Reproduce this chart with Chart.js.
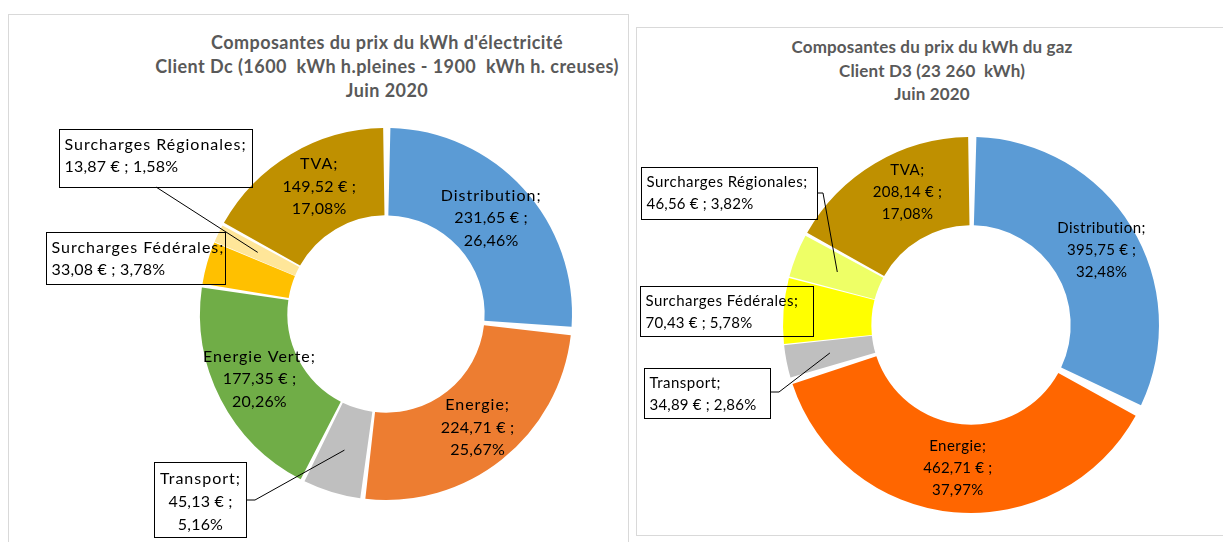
<!DOCTYPE html>
<html>
<head>
<meta charset="utf-8">
<script src="https://cdn.jsdelivr.net/npm/chart.js@4.4.0/dist/chart.umd.min.js"></script>
<style>
  body { margin: 0; background: #fff; width: 1223px; height: 542px; overflow: hidden; position: relative; }
  .panel { position: absolute; border: 1px solid #d9d9d9; box-sizing: border-box; }
  #p1 { left: 8px; top: 14px; width: 621px; height: 600px; }
  #p2 { left: 636px; top: 27px; width: 620px; height: 509px; }
  .title { position: absolute; width: 600px; text-align: center; white-space: pre; color: #595959;
           font-family: Lato, sans-serif; font-weight: bold; }
  #t1 { left: 87px; top: 30px; font-size: 18px; line-height: 24px; letter-spacing: 0.45px; }
  #t2 { left: 632px; top: 35px; font-size: 17px; line-height: 23.5px; letter-spacing: 0.15px; }
  canvas { position: absolute; top: 0; }
  #elec { left: 0; }
  #gaz { left: 630px; }
</style>
</head>
<body>
<div class="panel" id="p1"></div>
<div class="panel" id="p2"></div>
<div class="title" id="t1">Composantes du prix du kWh d'électricité
Client Dc (1600  kWh h.pleines - 1900  kWh h. creuses)
Juin 2020</div>
<div class="title" id="t2">Composantes du prix du kWh du gaz
Client D3 (23 260  kWh)
Juin 2020</div>
<canvas id="elec" width="630" height="542"></canvas>
<canvas id="gaz" width="593" height="542"></canvas>
<script>
// électricité
const elecLabels = ['Distribution', 'Energie', 'Transport', 'Energie Verte', 'Surcharges Fédérales', 'Surcharges Régionales', 'TVA'];
const elecValues = [231.65, 224.71, 45.13, 177.35, 33.08, 13.87, 149.52];
const elecPct = [26.46, 25.67, 5.16, 20.26, 3.78, 1.58, 17.08];
const elecColors = ['#5B9BD5', '#ED7D31', '#BFBFBF', '#70AD47', '#FFC000', '#FFE699', '#BF9000'];

// gaz
const gazLabels = ['Distribution', 'Energie', 'Transport', 'Surcharges Fédérales', 'Surcharges Régionales', 'TVA'];
const gazValues = [395.75, 462.71, 34.89, 70.43, 46.56, 208.14];
const gazPct = [32.48, 37.97, 2.86, 5.78, 3.82, 17.08];
const gazColors = ['#5B9BD5', '#FF6600', '#BFBFBF', '#FFFF00', '#EEFF66', '#BF9000'];

const fmt = v => v.toFixed(2).replace('.', ',');

// labels inside the ring + boxed callouts for the small slices
const sliceLabels = {
  id: 'sliceLabels',
  afterDatasetsDraw(chart, args, opts) {
    const ctx = chart.ctx;
    const meta = chart.getDatasetMeta(0);
    const vals = chart.data.datasets[0].data;
    const names = chart.data.labels;
    const cx = meta.data[0].x, cy = meta.data[0].y;
    const lh = opts.lineHeight;
    const txt = i => [names[i] + ';', fmt(vals[i]) + ' € ;', fmt(opts.pct[i]) + '%'];
    // name lines look more spaced out than number lines in the original
    const put = (s, x, y, k) => {
      ctx.letterSpacing = k === 0 ? opts.nameSpacing : opts.numSpacing;
      ctx.fillText(s, x, y);
    };

    ctx.save();
    ctx.font = opts.font;
    ctx.fillStyle = '#000';
    ctx.textBaseline = 'middle';

    ctx.textAlign = 'center';
    opts.inside.forEach(i => {
      const p = meta.data[i].getCenterPoint();
      const dx = (opts.shift && opts.shift[i]) ? opts.shift[i][0] : 0;
      const dy = (opts.shift && opts.shift[i]) ? opts.shift[i][1] : 0;
      txt(i).forEach((l, k) => put(l, p.x + dx, p.y + dy + (k - 1) * lh, k));
    });

    ctx.strokeStyle = '#000';
    ctx.lineWidth = 1;
    opts.callouts.forEach(c => {
      const [bx, by, bw, bh] = c.box;
      const x = Math.round(cx + bx) + 0.5, y = Math.round(cy + by) + 0.5;
      ctx.strokeRect(x, y, bw, bh);
      const t = txt(c.index);
      if (c.rows === 3) {
        ctx.textAlign = 'center';
        t.forEach((l, k) => put(l, x + bw / 2, y + 16 + k * 23, k));
      } else {
        ctx.textAlign = 'left';
        put(t[0], x + 5, y + 15, 0);
        put(t[1] + ' ' + t[2], x + 5, y + 15 + lh, 1);
      }
      if (c.anchor) {
        const p = meta.data[c.index].getCenterPoint();
        ctx.beginPath();
        ctx.moveTo(cx + c.anchor[0], cy + c.anchor[1]);
        if (c.elbow) ctx.lineTo(cx + c.elbow[0], cy + c.elbow[1]);
        ctx.lineTo(p.x, p.y);
        ctx.stroke();
      }
    });
    ctx.restore();
  }
};

function donut(id, labels, values, colors, pct, radius, padding, text, inside, shift, callouts) {
  return new Chart(document.getElementById(id), {
    type: 'doughnut',
    data: {
      labels: labels,
      datasets: [{
        data: values,
        backgroundColor: colors,
        borderWidth: 0
      }]
    },
    options: {
      responsive: false,
      animation: false,
      radius: radius,
      cutout: '52%',
      spacing: 8,
      layout: { padding: padding },
      plugins: {
        legend: { display: false },
        tooltip: { enabled: false },
        sliceLabels: Object.assign({ pct: pct, inside: inside, shift: shift, callouts: callouts }, text)
      }
    },
    plugins: [sliceLabels]
  });
}

donut('elec', elecLabels, elecValues, elecColors, elecPct, 182,
  { left: 186, right: 44, top: 114, bottom: 28 },
  { font: '16px Lato', nameSpacing: '1px', numSpacing: '0.2px', lineHeight: 22.5 },
  [0, 1, 3, 6],
  { 6: [6, -5], 1: [3, 2] },
  [
    { index: 5, box: [-327, -185, 193, 58], anchor: [-230, -127] },
    { index: 4, box: [-340, -82, 179, 52] },
    { index: 2, box: [-232, 148, 92, 75], rows: 3, anchor: [-140, 186], elbow: [-131, 186] }
  ]);

donut('gaz', gazLabels, gazValues, gazColors, gazPct, 184,
  { left: 141, right: 52, top: 125, bottom: 17 },
  { font: '15px Lato', nameSpacing: '0.5px', numSpacing: '0.2px', lineHeight: 22 },
  [0, 1, 5],
  { 5: [10, -9], 0: [8, 0] },
  [
    { index: 4, box: [-330, -158, 176, 52], anchor: [-154, -132], elbow: [-148, -132] },
    { index: 3, box: [-331, -39, 173, 50] },
    { index: 2, box: [-327, 43, 126, 50], anchor: [-201, 67], elbow: [-192, 67] }
  ]);
</script>
</body>
</html>
